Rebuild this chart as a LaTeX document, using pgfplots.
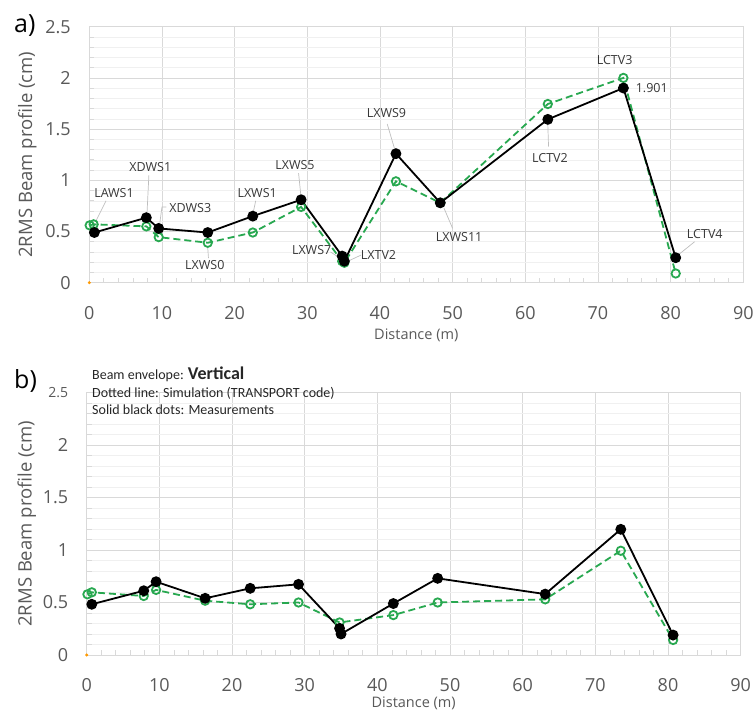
\documentclass[border=0pt]{standalone}
\usepackage{fontspec}
\setmainfont{Open Sans}
\newfontfamily\carlito{Carlito}
\usepackage{pgfplots}
\pgfplotsset{compat=1.18}
\definecolor{simgreen}{RGB}{40,168,80}
\definecolor{gridc}{RGB}{217,217,217}
\definecolor{minorc}{RGB}{240,240,240}
\definecolor{tickc}{RGB}{89,89,89}
\definecolor{labc}{RGB}{55,55,55}
\definecolor{leadc}{RGB}{190,190,190}
\tikzset{
  lab/.style={font=\fontsize{12.5}{12.5}\selectfont, text=labc, inner sep=0pt},
  lead/.style={draw=leadc, line width=0.7pt},
  boxtxt/.style={anchor=base west, inner sep=0pt, font=\carlito\fontsize{14}{14}\selectfont, text=black!85},
}
\pgfplotsset{
  panel/.style={
    scale only axis, width=654pt,
    xmin=0, xmax=90, ymin=0, ymax=2.5,
    xtick={0,10,...,90}, ytick={0,0.5,...,2.5},
    minor x tick num=4, minor y tick num=4,
    xmajorgrids, ymajorgrids, yminorgrids,
    major grid style={draw=gridc, line width=0.7pt},
    minor grid style={draw=minorc, line width=0.5pt},
    axis line style={draw=gridc, line width=0.7pt},
    xtick pos=lower, ytick pos=left,
    major tick length=0pt,
    minor tick style={draw=gridc, line width=0.7pt},
    minor tick length=5pt,
    tick label style={font=\fontsize{18}{18}\selectfont, text=tickc},
    /pgf/number format/assume math mode=true,
    xticklabel style={yshift=-20pt},
    yticklabel style={xshift=-15pt},
    xlabel={Distance (m)},
    ylabel={2RMS Beam profile (cm)},
    xlabel style={at={(axis description cs:0.5,0)}, anchor=center, font=\fontsize{14.5}{14.5}\selectfont, text=tickc},
    ylabel style={at={(axis description cs:0,0.5)}, anchor=center, font=\fontsize{18.5}{18.5}\selectfont, text=tickc},
    clip=false,
  },
  meas/.style={black, line width=1.8pt, mark=*, mark size=4.5pt},
  sim/.style={simgreen, line width=1.8pt, dash pattern=on 7pt off 4pt, mark=o, mark size=4.2pt, mark options={solid, line width=1.8pt}},
  orig/.style={only marks, mark=*, mark size=1.3pt, color=orange!80!yellow},
}
\begin{document}
\begin{tikzpicture}
\path[use as bounding box] (0,0) rectangle (756pt,713pt);
% ---------------- panel a ----------------
\begin{axis}[panel, at={(89.3pt,430.3pt)}, anchor=south west, height=256pt,
  xlabel style={yshift=-53pt}, ylabel style={yshift=62pt}]
\addplot[orig] coordinates {(0,0)};
\addplot[sim] coordinates {
(0.05,0.56) (0.6,0.57) (7.85,0.55) (9.55,0.445) (16.3,0.39) (22.5,0.49) (29.15,0.74) (34.8,0.21) (35.1,0.195) (42.2,0.99) (48.3,0.78) (63.1,1.745) (73.5,2.0) (80.7,0.09)};
\addplot[meas] coordinates {
(0.7,0.49) (7.85,0.635) (9.55,0.53) (16.3,0.49) (22.5,0.65) (29.15,0.81) (34.8,0.26) (35.1,0.21) (42.2,1.26) (48.3,0.78) (63.1,1.595) (73.5,1.901) (80.7,0.244)};
% leader lines
\draw[lead] (axis cs:2.3,0.80) -- (axis cs:0.9,0.60);
\draw[lead] (axis cs:8.2,1.05) -- (axis cs:7.95,0.69);
\draw[lead] (axis cs:10.6,0.74) -- (axis cs:10.0,0.74) -- (axis cs:9.7,0.58);
\draw[lead] (axis cs:16.4,0.24) -- (axis cs:16.3,0.34);
\draw[lead] (axis cs:22.9,0.80) -- (axis cs:22.6,0.70);
\draw[lead] (axis cs:28.8,1.07) -- (axis cs:29.1,0.86);
\draw[lead] (axis cs:33.2,0.30) -- (axis cs:34.5,0.24);
\draw[lead] (axis cs:37.4,0.27) -- (axis cs:35.6,0.21);
\draw[lead] (axis cs:41.0,1.55) -- (axis cs:42.0,1.31);
\draw[lead] (axis cs:50.0,0.53) -- (axis cs:48.8,0.73);
\draw[lead] (axis cs:63.2,1.33) -- (axis cs:63.1,1.54);
\draw[lead] (axis cs:83.3,0.40) -- (axis cs:81.2,0.28);
% labels
\node[lab] at (axis cs:3.4,0.88) {LAWS1};
\node[lab] at (axis cs:8.4,1.13) {XDWS1};
\node[lab] at (axis cs:13.9,0.73) {XDWS3};
\node[lab] at (axis cs:15.9,0.17) {LXWS0};
\node[lab] at (axis cs:23.1,0.88) {LXWS1};
\node[lab] at (axis cs:28.3,1.15) {LXWS5};
\node[lab] at (axis cs:30.6,0.32) {LXWS7};
\node[lab] at (axis cs:39.8,0.27) {LXTV2};
\node[lab] at (axis cs:40.9,1.66) {LXWS9};
\node[lab] at (axis cs:50.9,0.45) {LXWS11};
\node[lab] at (axis cs:63.4,1.22) {LCTV2};
\node[lab] at (axis cs:72.3,2.17) {LCTV3};
\node[lab] at (axis cs:77.4,1.90) {1.901};
\node[lab] at (axis cs:84.7,0.48) {LCTV4};
\end{axis}
% ---------------- panel b ----------------
\begin{axis}[panel, at={(86.7pt,58pt)}, anchor=south west, height=262.5pt,
  yticklabels={0,0.5,1,1.5,2,{\fontsize{14}{14}\selectfont 2.5}},
  xlabel style={yshift=-48pt}, ylabel style={yshift=60pt}]
\addplot[orig] coordinates {(0,0)};
\addplot[sim] coordinates {
(0.1,0.578) (0.7,0.597) (7.85,0.562) (9.55,0.62) (16.3,0.517) (22.5,0.483) (29.15,0.50) (34.8,0.31) (42.2,0.38) (48.3,0.50) (63.1,0.53) (73.5,0.993) (80.7,0.143)};
\addplot[meas] coordinates {
(0.7,0.483) (7.85,0.612) (9.55,0.698) (16.3,0.54) (22.5,0.635) (29.15,0.673) (34.8,0.254) (35.0,0.20) (42.2,0.49) (48.3,0.73) (63.1,0.58) (73.5,1.197) (80.7,0.19)};
\end{axis}
% panel letters and text box
\node[anchor=base west, inner sep=0pt, font=\fontsize{25}{25}\selectfont] at (14pt,680pt) {a)};
\node[anchor=base west, inner sep=0pt, font=\fontsize{25}{25}\selectfont] at (14pt,324pt) {b)};
\node[boxtxt] at (92pt,333pt) {Beam envelope: {\fontsize{18}{18}\selectfont\bfseries Vertical}};
\node[boxtxt] at (92pt,315pt) {Dotted line: Simulation (TRANSPORT code)};
\node[boxtxt] at (92pt,298pt) {Solid black dots: Measurements};
\end{tikzpicture}
\end{document}
